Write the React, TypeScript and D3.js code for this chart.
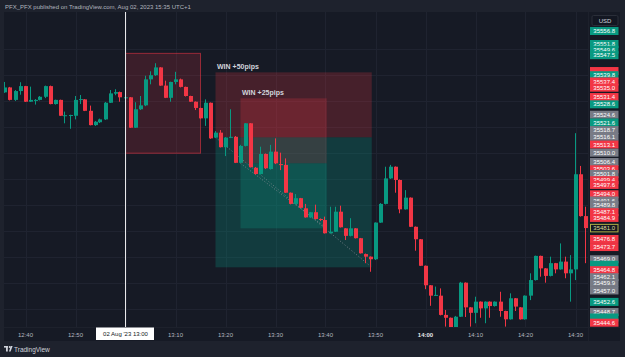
import React from "react";
import * as d3 from "d3";

const W = 625;
const H = 357;

// 1-minute candles starting 2023-08-02 12:36
const START = "2023-08-02 12:36";
const opens = [
  35533.2, 35535.1, 35530.3, 35533.7, 35535.6, 35529.6, 35529.9, 35530.3, 35531.5, 35535.6, 35528.7, 35530.3,
  35524.1, 35524.1, 35524.2, 35530.3, 35530.5, 35526.1, 35520.6, 35521.7, 35522.8, 35529.2, 35532.7, 35533.3,
  35531.1, 35531.3, 35519.6, 35526.7, 35528.2, 35538.2, 35539.8, 35542.8, 35535.8, 35531.1, 35537.2, 35538.2,
  35535.3, 35531.8, 35529.6, 35527.2, 35523.2, 35529.2, 35515.8, 35517.7, 35512.1, 35515.8, 35516.1, 35506.1,
  35512.6, 35521.3, 35504.2, 35501.8, 35509.5, 35503.7, 35510.4, 35505.6, 35505.3, 35494.6, 35490.3, 35492.5,
  35488.6, 35485.1, 35487.1, 35484.5, 35484.1, 35479.0, 35479.6, 35487.3, 35480.9, 35478.0, 35480.9, 35477.1,
  35471.0, 35470.0, 35469.0, 35483.1, 35490.3, 35500.1, 35504.6, 35499.5, 35488.2, 35492.7, 35481.5, 35476.7,
  35466.5, 35459.0, 35455.0, 35455.0, 35447.6, 35446.5, 35442.2, 35446.9, 35460.0, 35450.5, 35448.4, 35452.7,
  35450.1, 35452.7, 35451.0, 35452.7, 35449.1, 35445.9, 35454.0, 35450.5, 35445.9, 35455.0, 35461.0, 35470.3,
  35465.5, 35462.6, 35467.5, 35465.1, 35468.1, 35463.6, 35465.1, 35501.7, 35485.6,
];
const highs = [
  35537.2, 35535.3, 35534.1, 35537.1, 35535.7, 35535.4, 35530.6, 35531.8, 35535.8, 35535.8, 35530.4, 35530.4,
  35525.8, 35524.6, 35531.8, 35532.2, 35530.6, 35528.1, 35522.2, 35523.1, 35529.5, 35534.1, 35534.4, 35533.5,
  35531.6, 35531.4, 35529.4, 35531.8, 35539.6, 35541.3, 35544.4, 35542.9, 35537.7, 35537.3, 35541.1, 35538.5,
  35535.4, 35531.9, 35529.7, 35527.3, 35530.5, 35529.3, 35518.3, 35518.7, 35516.0, 35526.7, 35516.4, 35513.0,
  35521.4, 35521.4, 35504.5, 35512.3, 35509.7, 35513.0, 35515.5, 35510.0, 35507.8, 35494.7, 35494.1, 35492.6,
  35490.3, 35487.2, 35490.0, 35484.7, 35485.4, 35489.2, 35489.2, 35489.6, 35481.0, 35484.8, 35481.0, 35477.2,
  35471.2, 35470.1, 35483.2, 35490.6, 35504.6, 35505.3, 35504.7, 35499.7, 35495.6, 35492.8, 35481.6, 35476.8,
  35466.6, 35459.1, 35458.5, 35457.8, 35449.5, 35446.6, 35447.2, 35460.3, 35460.1, 35450.6, 35454.6, 35452.8,
  35452.8, 35452.8, 35452.8, 35456.5, 35449.2, 35455.9, 35454.1, 35450.6, 35455.1, 35463.6, 35470.4, 35470.4,
  35465.6, 35470.0, 35467.6, 35475.1, 35470.0, 35470.6, 35517.5, 35504.9, 35489.2,
];
const lows = [
  35533.0, 35530.1, 35529.9, 35532.3, 35529.5, 35529.5, 35528.5, 35530.1, 35531.0, 35528.6, 35528.5, 35524.1,
  35521.3, 35519.2, 35522.8, 35528.7, 35526.0, 35520.5, 35520.3, 35521.4, 35522.6, 35529.1, 35532.1, 35529.6,
  35530.9, 35519.5, 35519.5, 35526.4, 35527.9, 35536.3, 35539.5, 35535.7, 35531.0, 35529.6, 35536.3, 35535.1,
  35531.6, 35529.5, 35526.4, 35523.1, 35520.3, 35515.3, 35515.6, 35512.0, 35508.7, 35515.6, 35506.0, 35506.0,
  35512.4, 35504.3, 35501.6, 35501.6, 35503.7, 35503.5, 35505.6, 35503.3, 35494.5, 35490.1, 35490.1, 35488.7,
  35485.0, 35484.9, 35484.3, 35483.7, 35478.9, 35478.9, 35479.5, 35481.2, 35476.4, 35477.8, 35477.0, 35471.2,
  35467.5, 35464.2, 35468.7, 35483.0, 35490.1, 35499.9, 35494.6, 35486.7, 35488.1, 35481.4, 35472.3, 35466.4,
  35457.5, 35451.1, 35454.9, 35447.4, 35443.1, 35441.8, 35441.8, 35446.8, 35446.8, 35443.1, 35444.4, 35446.5,
  35444.4, 35446.5, 35450.8, 35446.9, 35443.1, 35445.8, 35449.1, 35445.8, 35445.8, 35453.3, 35460.8, 35462.3,
  35460.0, 35462.4, 35463.6, 35465.0, 35461.7, 35452.7, 35461.0, 35485.4, 35467.5,
];
const closes = [
  35535.1, 35530.3, 35533.7, 35535.6, 35529.6, 35530.3, 35530.3, 35531.5, 35535.6, 35528.7, 35530.3, 35524.2,
  35524.4, 35524.5, 35530.3, 35530.6, 35526.1, 35520.6, 35521.9, 35522.8, 35529.2, 35532.8, 35533.3, 35531.3,
  35531.3, 35519.6, 35526.7, 35528.2, 35538.2, 35539.8, 35542.8, 35535.8, 35531.1, 35537.2, 35538.2, 35535.3,
  35531.8, 35529.6, 35527.2, 35523.2, 35529.2, 35515.5, 35517.7, 35512.1, 35515.8, 35516.1, 35506.1, 35512.6,
  35521.3, 35504.4, 35501.8, 35509.5, 35504.0, 35510.4, 35505.9, 35505.3, 35494.6, 35490.3, 35492.5, 35488.8,
  35485.1, 35487.1, 35484.5, 35484.1, 35479.0, 35479.6, 35487.3, 35481.3, 35478.0, 35480.9, 35477.1, 35471.3,
  35470.0, 35469.0, 35483.1, 35490.3, 35500.1, 35504.6, 35499.5, 35488.2, 35492.7, 35481.5, 35476.7, 35466.5,
  35459.0, 35455.0, 35455.3, 35447.6, 35446.5, 35442.2, 35446.9, 35460.0, 35450.5, 35448.4, 35452.7, 35450.1,
  35452.7, 35451.0, 35452.7, 35449.1, 35445.9, 35454.0, 35450.8, 35445.9, 35455.0, 35461.0, 35470.3, 35465.5,
  35462.6, 35467.5, 35465.1, 35468.1, 35463.6, 35465.1, 35501.7, 35485.6, 35481.0,
];

const timeTicks = ["12:40", "12:50", "13:00", "13:10", "13:20", "13:30", "13:40", "13:50", "14:00", "14:10", "14:20", "14:30"];
const boldTick = "14:00";
const crosshairTime = "13:00";
const crosshairLabel = "02 Aug '23   13:00";

// price scale tags on the right axis ("h" = tag hidden behind its neighbours)
const tagValues = [
  35556.8, 35551.8, 35549.6, 35547.5, 35541.4, 35539.8, 35537.4, 35535.0, 35531.4, 35528.6, 35524.6, 35521.6,
  35518.7, 35516.1, 35513.1, 35510.0, 35506.4, 35503.6, 35501.8, 35499.4, 35497.6, 35494.0, 35491.6, 35489.8,
  35487.1, 35484.9, 35476.8, 35473.7, 35469.0, 35466.9, 35464.8, 35462.1, 35459.9, 35457.0, 35452.6, 35448.7,
  35446.6, 35444.6,
];
const tagKinds = [
  "g", "g", "g", "g", "rh", "g", "r", "r", "r", "g", "n", "g",
  "n", "n", "r", "n", "n", "r", "n", "r", "r", "r", "n", "n",
  "r", "r", "r", "r", "n", "gh", "r", "n", "n", "n", "g", "n",
  "gh", "r",
];
const lastPrice = 35481.0;

// drawings
const rectStart = "13:00";
const rectEnd = "13:15";
const rectTop = 35548.2;
const rectBottom = 35509.8;

// short positions (drawn inner first, outer on top)
const posStarts = ["13:23:00", "13:18:00"];
const posEnds = ["13:40:15", "13:49:15"];
const posEntry = [35505.9, 35515.9];
const posStop = [35530.9, 35540.9];
const posTarget = [35480.9, 35465.9];
const posLabels = ["WIN +25pips", "WIN +50pips"];

const C = {
  frame: "#1e222d",
  pane: "#161a25",
  grid: "#1f2330",
  up: "#089981",
  down: "#f23645",
  gray: "#787b86",
  text: "#b2b5be",
};
const FONT = "'Liberation Sans', Arial, sans-serif";

export default function App() {
  const parse = d3.timeParse("%Y-%m-%d %H:%M");
  const parseS = d3.timeParse("%Y-%m-%d %H:%M:%S");
  const day = "2023-08-02 ";
  const t0 = parse(START) as Date;
  const x = d3
    .scaleTime()
    .domain([parse(day + "13:00") as Date, parse(day + "14:00") as Date])
    .range([125.5, 425.5]);
  const y = d3.scaleLinear().domain([35444.6, 35556.8]).range([322.7, 31]);

  const paneL = 4, paneR = 588, paneT = 12, paneB = 327;
  const axisR = 620, axisB = 341;

  const candles = opens.map((o, i) => ({
    t: d3.timeMinute.offset(t0, i),
    o,
    h: highs[i],
    l: lows[i],
    c: closes[i],
  }));

  const gridPrices = d3.range(35450, 35560, 10);
  const gridTimes = timeTicks.map((s) => parse(day + s) as Date);

  const tagColor = (k: string) => (k[0] === "g" ? C.up : k[0] === "r" ? C.down : C.gray);
  const chX = x(parse(day + crosshairTime) as Date);

  return (
    <svg
      width={W}
      height={H}
      viewBox={`0 0 ${W} ${H}`}
      style={{ position: "fixed", left: 0, top: 0, display: "block" }}
      fontFamily={FONT}
    >
      <defs>
        <clipPath id="pane">
          <rect x={paneL} y={paneT} width={paneR - paneL} height={paneB - paneT} />
        </clipPath>
      </defs>
      <rect x={0} y={0} width={W} height={H} fill={C.frame} />
      <rect x={paneL} y={paneT} width={axisR - paneL} height={axisB - paneT} fill={C.pane} />

      {/* header */}
      <text x={5} y={9} fontSize={6} fill={C.text}>
        PFX_PFX published on TradingView.com, Aug 02, 2023 15:35 UTC+1
      </text>

      <g clipPath="url(#pane)">
        {/* grid */}
        {gridPrices.map((p) => (
          <line key={"gy" + p} x1={paneL} x2={paneR} y1={Math.round(y(p)) + 0.5} y2={Math.round(y(p)) + 0.5} stroke={C.grid} />
        ))}
        {gridTimes.map((t, i) => (
          <line key={"gx" + i} x1={Math.round(x(t)) + 0.5} x2={Math.round(x(t)) + 0.5} y1={paneT} y2={paneB} stroke={C.grid} />
        ))}

        {/* rectangle drawing */}
        <rect
          x={x(parse(day + rectStart) as Date)}
          y={y(rectTop)}
          width={x(parse(day + rectEnd) as Date) - x(parse(day + rectStart) as Date)}
          height={y(rectBottom) - y(rectTop)}
          fill="rgba(242,54,69,0.17)"
          stroke="rgba(242,54,69,0.55)"
          strokeWidth={1}
        />

        {/* short positions */}
        {posStarts.map((s, i) => {
          const x0 = x(parseS(day + s) as Date);
          const x1 = x(parseS(day + posEnds[i]) as Date);
          const ys = y(posStop[i]);
          const ye = y(posEntry[i]);
          const yt = y(posTarget[i]);
          return (
            <g key={"pos" + i}>
              <rect x={x0} y={ys} width={x1 - x0} height={ye - ys} fill="rgba(242,54,69,0.22)" />
              <rect x={x0} y={ye} width={x1 - x0} height={yt - ye} fill="rgba(8,153,129,0.27)" />
            </g>
          );
        })}
        {posStarts.map((s, i) => {
          const x0 = x(parseS(day + s) as Date);
          const x1 = x(parseS(day + posEnds[i]) as Date);
          return (
            <line
              key={"pl" + i}
              x1={x0}
              y1={y(posEntry[i])}
              x2={x1}
              y2={y(posTarget[i])}
              stroke="#8a8d96"
              strokeWidth={1}
              strokeDasharray="1 2"
              opacity={0.8}
            />
          );
        })}

        {/* candles */}
        {candles.map((d, i) => {
          const cx = x(d.t);
          const up = d.c >= d.o;
          const col = up ? C.up : C.down;
          const bTop = y(Math.max(d.o, d.c));
          const bBot = y(Math.min(d.o, d.c));
          const bx = Math.round(cx - 2);
          return (
            <g key={"c" + i}>
              <rect x={bx + 1} y={y(d.h)} width={1} height={Math.max(1, y(d.l) - y(d.h))} fill={col} />
              <rect x={bx} y={bTop} width={4} height={Math.max(1, bBot - bTop)} fill={col} />
            </g>
          );
        })}

        {/* position labels */}
        {posStarts.map((s, i) => (
          <text
            key={"plab" + i}
            x={x(parseS(day + s) as Date) + 1.5}
            y={y(posStop[i]) - 3}
            fontSize={7}
            fontWeight="bold"
            fill="#d1d4dc"
          >
            {posLabels[i]}
          </text>
        ))}

        {/* crosshair */}
        <line x1={chX} x2={chX} y1={paneT} y2={paneB} stroke="#e8e8ea" strokeWidth={1} />
      </g>

      {/* axis borders */}
      <line x1={paneR + 0.5} x2={paneR + 0.5} y1={paneT} y2={axisB} stroke="#1d212c" />
      <line x1={paneL} x2={axisR} y1={paneB + 0.5} y2={paneB + 0.5} stroke="#1d212c" />

      {/* time axis (the crosshair tag covers its own tick) */}
      {timeTicks
        .filter((s) => s !== crosshairTime)
        .map((s, i) => (
          <text
            key={"tt" + i}
            x={x(parse(day + s) as Date)}
            y={336.5}
            fontSize={6}
            textAnchor="middle"
            fill={s === boldTick ? "#e6e7ea" : C.text}
            fontWeight={s === boldTick ? "bold" : "normal"}
          >
            {s}
          </text>
        ))}
      <rect x={chX - 29.5} y={327.5} width={58} height={12.5} fill="#ffffff" />
      <text x={chX} y={336} fontSize={6} textAnchor="middle" fill="#131722">
        {crosshairLabel}
      </text>

      {/* price axis tags */}
      <rect x={592} y={15.5} width={26} height={10} rx={1.5} fill="#131722" stroke="#2a2e39" />
      <text x={605} y={22.5} fontSize={6} textAnchor="middle" fill="#d1d4dc">
        USD
      </text>
      {tagValues.map((v, i) => {
        const yy = y(v);
        const hidden = tagKinds[i].length > 1;
        return (
          <g key={"tag" + i}>
            <rect x={590} y={yy - 4} width={28.5} height={8} fill={tagColor(tagKinds[i])} />
            {!hidden && (
              <text x={604.2} y={yy + 2.1} fontSize={6} textAnchor="middle" fill="#ffffff">
                {v.toFixed(1)}
              </text>
            )}
          </g>
        );
      })}
      <rect x={590.5} y={y(lastPrice) - 3.7} width={27.5} height={7.5} fill="#131722" stroke="#aeae46" />
      <text x={604.2} y={y(lastPrice) + 2.1} fontSize={6} textAnchor="middle" fill="#dede9a">
        {lastPrice.toFixed(1)}
      </text>

      {/* footer */}
      <g fill="#d1d4dc">
        <rect x={4} y={346} width={4} height={1.6} />
        <rect x={6} y={346} width={1.8} height={5.5} />
        <circle cx={9.6} cy={347} r={0.9} />
        <path d="M10.6,346 L12.6,346 L10.6,351.5 L9,351.5 Z" />
      </g>
      <text x={14} y={351.5} fontSize={6.5} fill="#d1d4dc">
        TradingView
      </text>
    </svg>
  );
}
